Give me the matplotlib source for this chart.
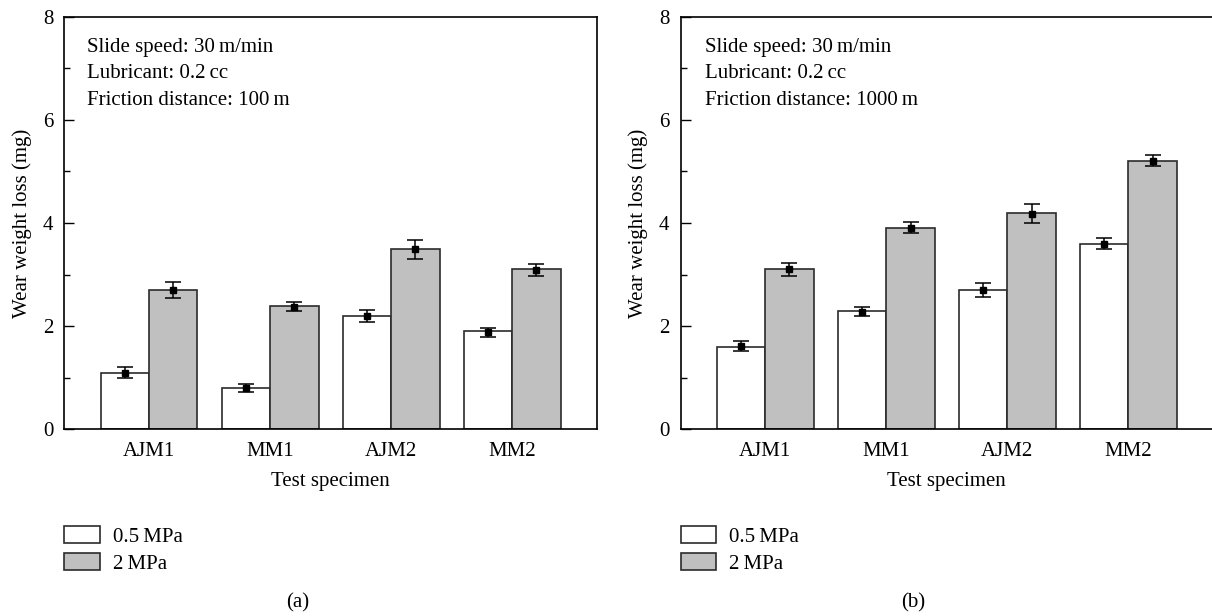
import numpy as np
import matplotlib.pyplot as plt

plt.rcParams['font.family'] = ['Liberation Serif', 'DejaVu Serif']

specimens = ['AJM1', 'MM1', 'AJM2', 'MM2']
series_names = ['0.5\u2009MPa', '2\u2009MPa']

# (a) friction distance 100 m
bars_a_low = [1.1, 0.8, 2.2, 1.9]
bars_a_high = [2.7, 2.4, 3.5, 3.1]
mean_a_low = [1.10, 0.80, 2.20, 1.88]
mean_a_high = [2.70, 2.38, 3.49, 3.09]
err_a_low = [0.10, 0.08, 0.12, 0.09]
err_a_high = [0.15, 0.09, 0.18, 0.11]

# (b) friction distance 1000 m
bars_b_low = [1.6, 2.3, 2.7, 3.6]
bars_b_high = [3.1, 3.9, 4.2, 5.2]
mean_b_low = [1.62, 2.28, 2.70, 3.60]
mean_b_high = [3.10, 3.91, 4.18, 5.21]
err_b_low = [0.10, 0.09, 0.13, 0.10]
err_b_high = [0.12, 0.10, 0.18, 0.11]

notes_a = ['Slide speed: 30\u2009m/min', 'Lubricant: 0.2\u2009cc', 'Friction distance: 100\u2009m']
notes_b = ['Slide speed: 30\u2009m/min', 'Lubricant: 0.2\u2009cc', 'Friction distance: 1000\u2009m']

FS = 15
W, H = 1212, 616
fig = plt.figure(figsize=(W / 100, H / 100), dpi=100)

ax_h = 412.6 / H
ax_y = (H - 429.3) / H
ax_w = 532.7 / W
ax1 = fig.add_axes([64.3 / W, ax_y, ax_w, ax_h])
ax2 = fig.add_axes([680.5 / W, ax_y, ax_w, ax_h])

x = np.arange(1, len(specimens) + 1)
bw = 0.4
edge = '#2b2b2b'


def draw(ax, low, high, mlow, mhigh, elow, ehigh, notes, note_x):
    b1 = ax.bar(x - bw / 2, low, bw, color='white', edgecolor=edge, linewidth=1.2, zorder=2)
    b2 = ax.bar(x + bw / 2, high, bw, color='#c0c0c0', edgecolor=edge, linewidth=1.2, zorder=2)
    for xs, m, e in [(x - bw / 2, mlow, elow), (x + bw / 2, mhigh, ehigh)]:
        ax.errorbar(xs, m, yerr=e, fmt='s', color='black', ms=3.8, ecolor='black',
                    elinewidth=1.1, capsize=6, capthick=1.1, zorder=3)
    ax.set_xlim(0.3, 4.7)
    ax.set_ylim(0, 8)
    ax.set_yticks([0, 2, 4, 6, 8])
    ax.set_yticks([1, 3, 5, 7], minor=True)
    ax.set_xticks(x)
    ax.set_xticklabels(specimens)
    ax.tick_params(axis='y', which='major', direction='in', length=7, width=1, pad=8, labelsize=FS)
    ax.tick_params(axis='y', which='minor', direction='in', length=4, width=1)
    ax.tick_params(axis='x', length=0, pad=9, labelsize=FS)
    for s in ax.spines.values():
        s.set_linewidth(1.2)
    ax.set_xlabel('Test specimen', fontsize=FS, labelpad=8)
    ax.set_ylabel('Wear weight loss (mg)', fontsize=FS, labelpad=8)
    for i, t in enumerate(notes):
        ax.text(note_x, 0.925 - i * 0.0635, t, transform=ax.transAxes, fontsize=FS,
                va='center', ha='left')
    ax.legend([b1, b2], series_names, loc='upper left', bbox_to_anchor=(0, -0.235),
              frameon=False, fontsize=FS, handlelength=1.7, handleheight=0.85,
              handletextpad=0.65, labelspacing=0.3, borderpad=0, borderaxespad=0)
    return ax


draw(ax1, bars_a_low, bars_a_high, mean_a_low, mean_a_high, err_a_low, err_a_high, notes_a, 0.042)
draw(ax2, bars_b_low, bars_b_high, mean_b_low, mean_b_high, err_b_low, err_b_high, notes_b, 0.046)
ax2.spines['right'].set_visible(False)

fig.text(298 / W, 13 / H, '(a)', ha='center', va='center', fontsize=FS)
fig.text(913 / W, 13 / H, '(b)', ha='center', va='center', fontsize=FS)

fig.savefig('out.png', dpi=100)
